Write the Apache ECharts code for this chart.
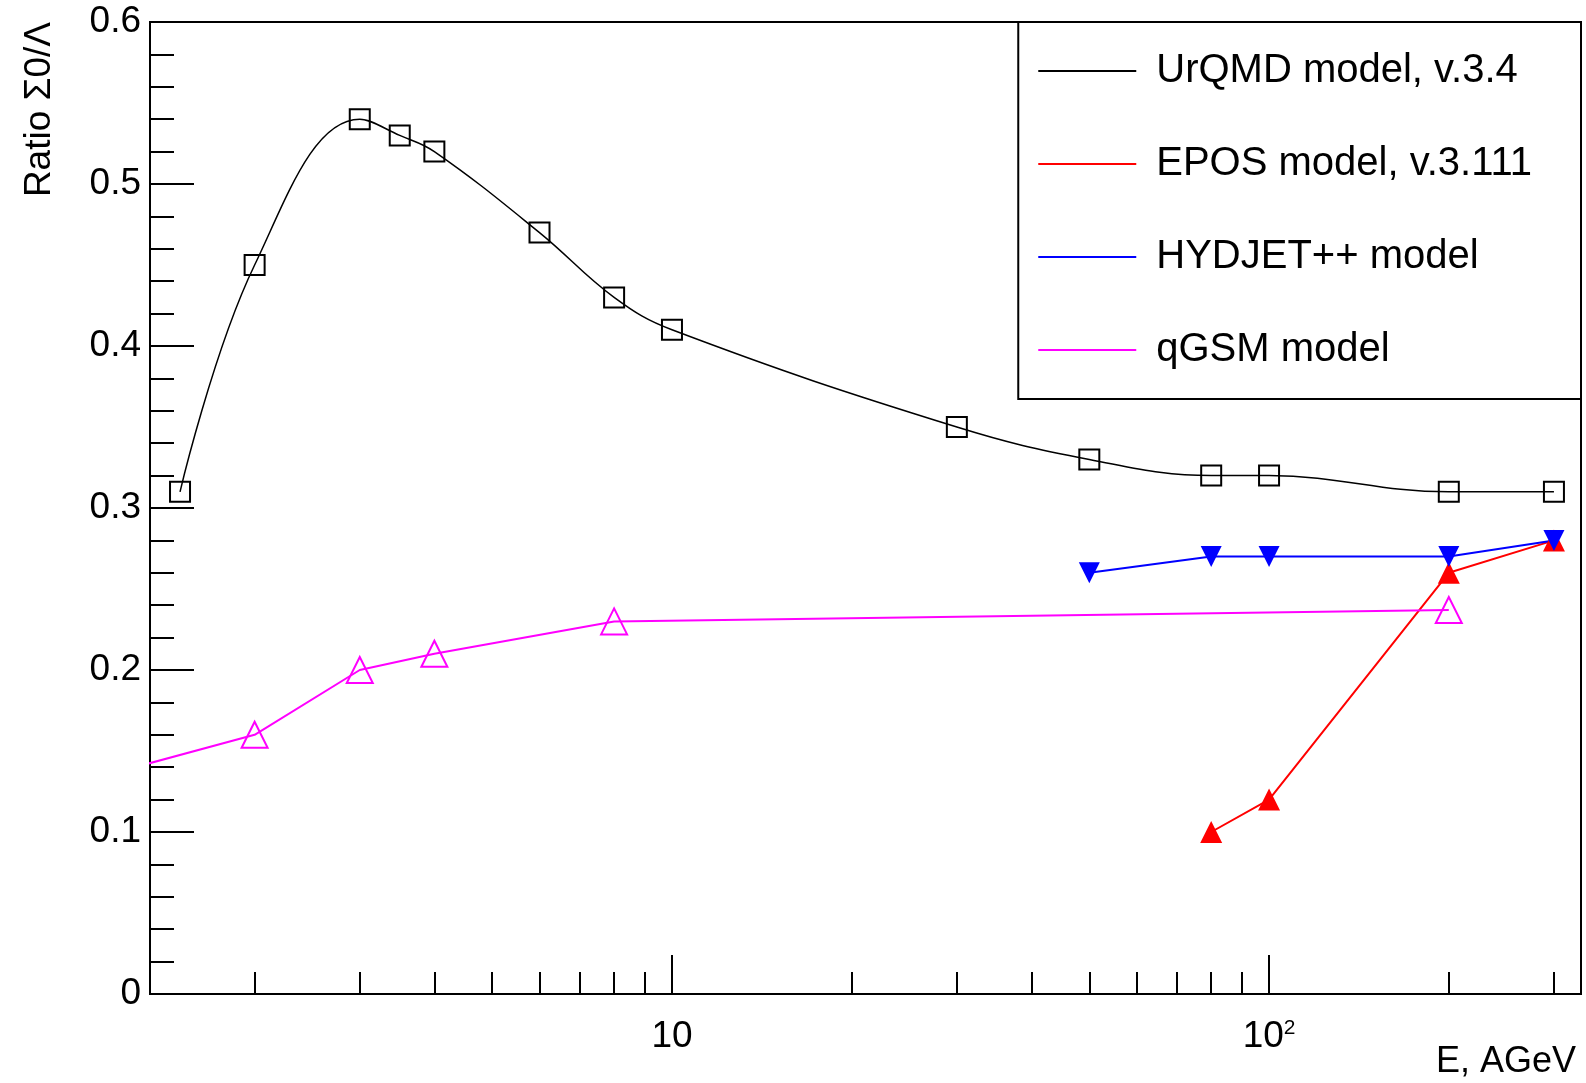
<!DOCTYPE html>
<html>
<head>
<meta charset="utf-8">
<script src="https://cdn.jsdelivr.net/npm/echarts@6/dist/echarts.min.js"></script>
<style>
html,body{margin:0;padding:0;background:#fff;}
#main{width:1586px;height:1083px;}
</style>
</head>
<body>
<div id="main"></div>
<script>
// 数据 (E, AGeV -> Σ0/Λ)
var urqmdE = [1.5, 2, 3, 3.5, 4, 6, 8, 10, 30, 50, 80, 100, 200, 300];
var urqmdR = [0.31, 0.45, 0.54, 0.53, 0.52, 0.47, 0.43, 0.41, 0.35, 0.33, 0.32, 0.32, 0.31, 0.31];
var eposE = [80, 100, 200, 300];
var eposR = [0.10, 0.12, 0.26, 0.28];
var hydjetE = [50, 80, 100, 200, 300];
var hydjetR = [0.26, 0.27, 0.27, 0.27, 0.28];
var qgsmE = [1, 2, 3, 4, 8, 200];
var qgsmR = [0.13, 0.16, 0.20, 0.21, 0.23, 0.237];

var xMajor = [10, 100];
var xMinor = [2, 3, 4, 5, 6, 7, 8, 9, 20, 30, 40, 50, 60, 70, 80, 90, 200, 300];
var names = ["UrQMD model, v.3.4", "EPOS model, v.3.111", "HYDJET++ model", "qGSM model"];
var colors = ["#000000", "#ff0000", "#0000ff", "#ff00ff"];

var font = "Liberation Sans";

function zip(xs, ys) {
    var out = [];
    for (var i = 0; i < xs.length; i++) out.push([xs[i], ys[i]]);
    return out;
}

var myChart = echarts.init(document.getElementById('main'));
myChart.setOption({
    animation: false,
    backgroundColor: "#fff",
    grid: {
        left: 150, right: 5, top: 22, bottom: 89,
        show: true, borderColor: "#000", borderWidth: 2, containLabel: false
    },
    legend: {
        orient: "vertical",
        right: 5, top: 22,
        backgroundColor: "#fff",
        borderColor: "#000", borderWidth: 2,
        padding: [29, 49, 29, 20],
        itemGap: 53,
        itemWidth: 98, itemHeight: 2,
        icon: "rect",
        textStyle: { fontFamily: font, fontSize: 40, color: "#000", padding: [0, 0, 0, 15] },
        data: names.map(function (n, i) {
            return { name: n, itemStyle: { color: colors[i], borderWidth: 0 } };
        })
    },
    xAxis: [{
        type: "log", logBase: 10, min: 1.336, max: 333, position: "bottom",
        axisLine: { show: true, onZero: false, lineStyle: { color: "#000", width: 2 } },
        axisTick: { show: true, inside: true, length: 39, customValues: xMajor, lineStyle: { color: "#000", width: 2 } },
        axisLabel: {
            show: true, customValues: xMajor, margin: 24,
            formatter: function (v) { return v >= 100 ? "{b|10}{s|2}" : "{b|10}"; },
            rich: {
                b: { fontFamily: font, fontSize: 37, color: "#000" },
                s: { fontFamily: font, fontSize: 21, color: "#000", verticalAlign: "top", padding: [0, 0, 14, 0] }
            }
        },
        splitLine: { show: false }
    }, {
        type: "log", logBase: 10, min: 1.336, max: 333, position: "bottom",
        axisLine: { show: false },
        axisTick: { show: true, inside: true, length: 22, customValues: xMinor, lineStyle: { color: "#000", width: 2 } },
        axisLabel: { show: false },
        splitLine: { show: false }
    }],
    yAxis: {
        type: "value", min: 0, max: 0.6, interval: 0.1,
        axisLine: { show: true, lineStyle: { color: "#000", width: 2 } },
        axisTick: { show: true, inside: true, length: 44, lineStyle: { color: "#000", width: 2 } },
        minorTick: { show: true, splitNumber: 5, length: 24, lineStyle: { color: "#000", width: 2 } },
        axisLabel: { fontFamily: font, fontSize: 37, color: "#000", margin: 9 },
        splitLine: { show: false }
    },
    graphic: [{
        type: "text", x: 40, y: 22, rotation: Math.PI / 2,
        style: { text: "Ratio Σ0/Λ", fontFamily: font, fontSize: 37, fill: "#000", align: "right", verticalAlign: "middle" }
    }, {
        type: "text", x: 1576, y: 1062,
        style: { text: "E, AGeV", fontFamily: font, fontSize: 36, fill: "#000", align: "right", verticalAlign: "middle" }
    }],
    series: [{
        name: names[0], type: "line", smooth: 0.4,
        data: zip(urqmdE, urqmdR),
        symbol: "rect", symbolSize: 20,
        lineStyle: { color: colors[0], width: 1.5 },
        itemStyle: { color: "rgba(0,0,0,0)", borderColor: colors[0], borderWidth: 2 }
    }, {
        name: names[1], type: "line",
        data: zip(eposE, eposR),
        symbol: "triangle", symbolSize: 22,
        lineStyle: { color: colors[1], width: 2 },
        itemStyle: { color: colors[1] }
    }, {
        name: names[2], type: "line",
        data: zip(hydjetE, hydjetR),
        symbol: "triangle", symbolSize: 21, symbolRotate: 180,
        lineStyle: { color: colors[2], width: 2 },
        itemStyle: { color: colors[2] }
    }, {
        name: names[3], type: "line",
        data: zip(qgsmE, qgsmR),
        symbol: "triangle", symbolSize: 26,
        lineStyle: { color: colors[3], width: 2 },
        itemStyle: { color: "rgba(0,0,0,0)", borderColor: colors[3], borderWidth: 2 }
    }]
});
window.addEventListener("resize", function () {
    myChart.resize();
});
</script>
</body>
</html>
